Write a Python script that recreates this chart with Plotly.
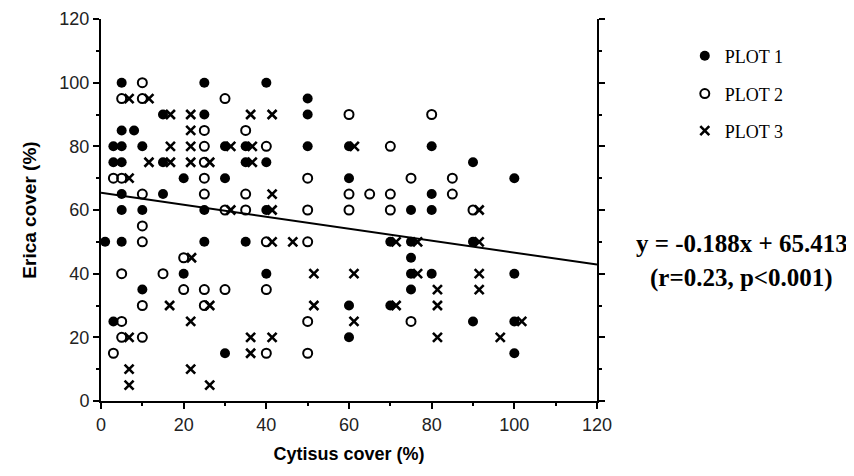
import plotly.graph_objects as go

# PLOT 1 (filled circles)
p1_x = [5, 25, 40, 50, 15, 25, 50, 5, 8,
        3, 5, 10, 30, 35, 50, 60, 80,
        3, 5, 15, 35, 40, 90,
        20, 30, 60, 100,
        5, 15, 80,
        5, 10, 25, 40, 75, 80,
        1, 5, 25, 35, 70, 75, 90,
        75,
        20, 40, 75, 80, 100,
        10, 75,
        60, 70,
        3, 90, 100,
        60,
        30, 100]
p1_y = [100, 100, 100, 95, 90, 90, 90, 85, 85,
        80, 80, 80, 80, 80, 80, 80, 80,
        75, 75, 75, 75, 75, 75,
        70, 70, 70, 70,
        65, 65, 65,
        60, 60, 60, 60, 60, 60,
        50, 50, 50, 50, 50, 50, 50,
        45,
        40, 40, 40, 40, 40,
        35, 35,
        30, 30,
        25, 25, 25,
        20,
        15, 15]

# PLOT 2 (open circles)
p2_x = [10,
        5, 10, 30,
        60, 80,
        25, 35,
        25, 40, 70,
        25,
        3, 5, 25, 50, 75, 85,
        10, 25, 35, 60, 65, 70, 85,
        30, 35, 50, 60, 70, 90,
        10,
        10, 40, 50,
        20,
        5, 15,
        20, 25, 30, 40,
        10, 25,
        5, 50, 75,
        5, 10,
        3, 40, 50]
p2_y = [100,
        95, 95, 95,
        90, 90,
        85, 85,
        80, 80, 80,
        75,
        70, 70, 70, 70, 70, 70,
        65, 65, 65, 65, 65, 65, 65,
        60, 60, 60, 60, 60, 60,
        55,
        50, 50, 50,
        45,
        40, 40,
        35, 35, 35, 35,
        30, 30,
        25, 25, 25,
        20, 20,
        15, 15, 15]

# PLOT 3 (crosses)
p3_x = [6.8, 11.6,
        16.8, 21.7, 36.2, 41.4,
        21.7,
        16.8, 21.7, 31.4, 36.6, 61.3,
        11.6, 16.8, 21.7, 26.3, 36.6,
        6.8,
        41.4,
        31.4, 41.4, 91.5,
        41.4, 46.4, 71.4, 76.6, 91.5,
        21.9,
        51.5, 61.2, 76.6, 91.5,
        81.4, 91.5,
        16.6, 26.3, 51.5, 71.4, 81.4,
        21.7, 61.2, 101.8,
        6.8, 36.2, 41.4, 81.4, 96.6,
        36.2,
        6.8, 21.7,
        6.8, 26.3]
p3_y = [95, 95,
        90, 90, 90, 90,
        85,
        80, 80, 80, 80, 80,
        75, 75, 75, 75, 75,
        70,
        65,
        60, 60, 60,
        50, 50, 50, 50, 50,
        45,
        40, 40, 40, 40,
        35, 35,
        30, 30, 30, 30, 30,
        25, 25, 25,
        20, 20, 20, 20, 20,
        15,
        10, 10,
        5, 5]

# Regression (from the stated equation)
slope = -0.188
intercept = 65.413
line_x = [0, 120]

axis_ticks = [0, 20, 40, 60, 80, 100, 120]
equation_text = "y = -0.188x + 65.413"
stats_text = "(r=0.23, p<0.001)"

fig = go.Figure()

fig.add_trace(go.Scatter(
    x=line_x, y=[intercept + slope * v for v in line_x], mode="lines",
    line=dict(color="black", width=2), showlegend=False, hoverinfo="skip"))

fig.add_trace(go.Scatter(
    x=p1_x, y=p1_y, mode="markers", name="PLOT 1", legend="legend",
    marker=dict(symbol="circle", size=10, color="black")))
fig.add_trace(go.Scatter(
    x=p2_x, y=p2_y, mode="markers", name="PLOT 2", legend="legend2",
    marker=dict(symbol="circle-open", size=9, color="black",
                line=dict(width=2, color="black"))))
fig.add_trace(go.Scatter(
    x=p3_x, y=p3_y, mode="markers", name="PLOT 3", legend="legend3",
    marker=dict(symbol="x-thin", size=9, color="black",
                line=dict(width=2.6, color="black"))))

fig.update_traces(cliponaxis=False)

legend_font = dict(family="Liberation Serif, Times New Roman, serif", size=18, color="black")
leg_common = dict(xanchor="left", yanchor="middle", x=1.177, font=legend_font,
                  bgcolor="rgba(0,0,0,0)", borderwidth=0)

axis_font = dict(family="Liberation Sans, Arial, sans-serif", size=18, color="#222")
title_font = dict(family="Liberation Sans, Arial, sans-serif", size=18, color="black")
serif_bold = dict(family="Liberation Serif, Times New Roman, serif", size=25, color="black")

fig.update_layout(
    width=854, height=476,
    margin=dict(l=93, r=265, t=11, b=83, autoexpand=False),
    paper_bgcolor="white", plot_bgcolor="white",
    legend=dict(y=0.903, **leg_common),
    legend2=dict(y=0.804, **leg_common),
    legend3=dict(y=0.707, **leg_common),
    xaxis=dict(
        range=[0, 120], tickvals=axis_ticks, ticktext=[str(t) for t in axis_ticks],
        showgrid=False, zeroline=False, showline=True, linecolor="black", linewidth=2,
        ticks="outside", ticklen=6, tickwidth=2, tickcolor="black",
        minor=dict(dtick=10, ticks="outside", ticklen=3, tickwidth=1.5, tickcolor="black"),
        tickfont=axis_font, automargin=False,
        title=dict(text="<b>Cytisus cover (%)</b>", font=title_font, standoff=14),
    ),
    yaxis=dict(
        range=[0, 120], tickvals=axis_ticks, ticktext=[str(t) for t in axis_ticks],
        showgrid=False, zeroline=False, showline=True, linecolor="black", linewidth=2,
        mirror="ticks",
        ticks="outside", ticklen=6, tickwidth=2, tickcolor="black",
        minor=dict(dtick=10, ticks="outside", ticklen=3, tickwidth=1.5, tickcolor="black"),
        tickfont=axis_font, automargin=False,
        title=dict(text="<b>Erica cover (%)</b>", font=dict(family="Liberation Sans, Arial, sans-serif", size=19, color="black"), standoff=18),
    ),
    annotations=[
        dict(text="<b>" + equation_text + "</b>", xref="paper", yref="paper",
             x=1.292, y=0.411, xanchor="center", yanchor="middle", showarrow=False,
             font=serif_bold),
        dict(text="<b>" + stats_text + "</b>", xref="paper", yref="paper",
             x=1.292, y=0.322, xanchor="center", yanchor="middle", showarrow=False,
             font=serif_bold),
    ],
)

fig.write_html("out.html")
